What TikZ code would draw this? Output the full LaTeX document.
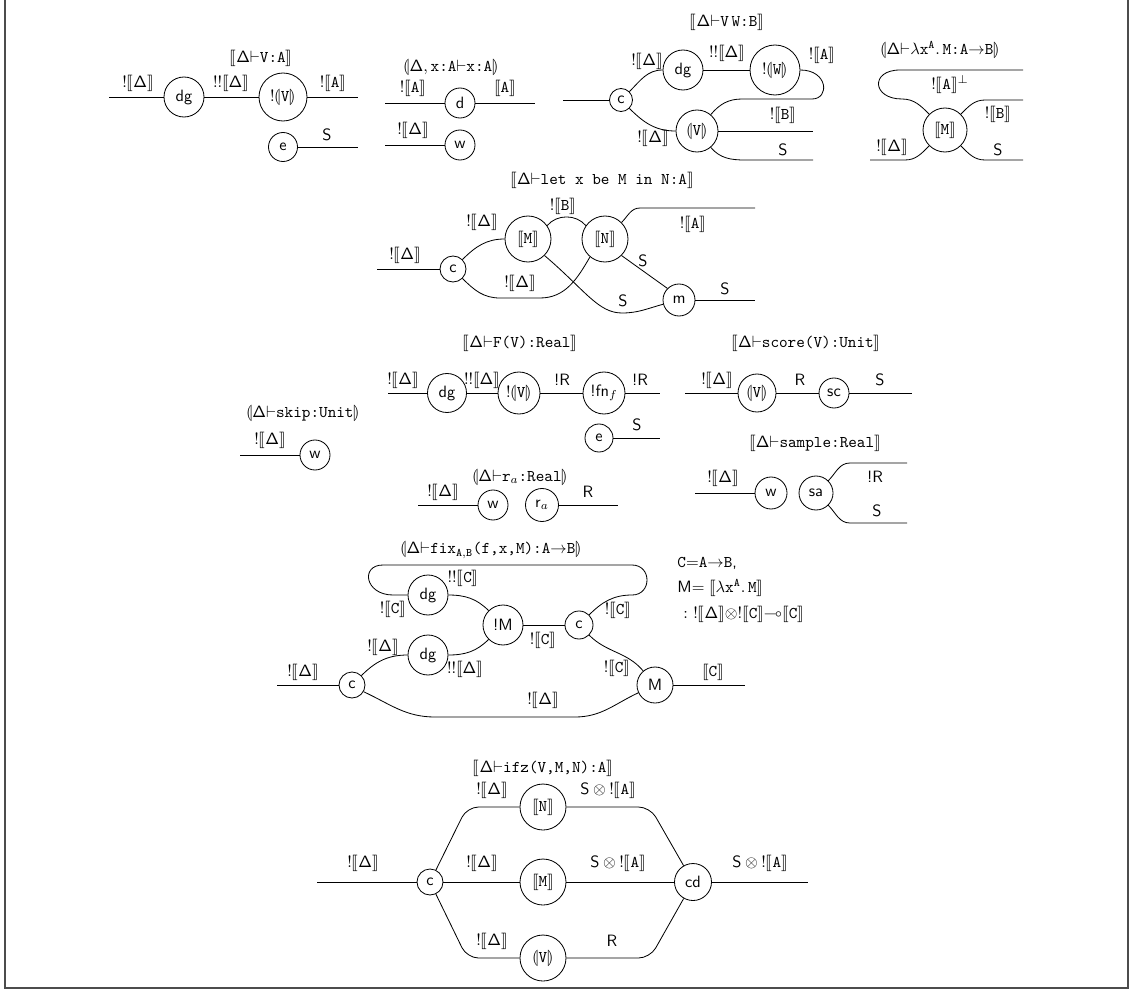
\documentclass[tikz,border=0pt]{standalone}
\usepackage{amssymb}
\usepackage{stmaryrd}
\newcommand{\sem}[1]{\llbracket #1\rrbracket}
\newcommand{\ban}[1]{\llparenthesis #1\rrparenthesis}
\newcommand{\Dlt}{\mathsf{\Delta}}
\newcommand{\tm}[1]{\mbox{\ttfamily #1}}
\newcommand{\bangD}{$!\sem{\Dlt}$}
\newcommand{\bangC}{$!\sem{\tm{C}}$}
\newcommand{\SA}{$\mathsf{S}\mathbin{\otimes}{!}\sem{\tm{A}}$}
\tikzset{
  gate/.style={draw,circle,inner sep=0pt,font=\sffamily,minimum size={#1*1.22pt}},
  lbl/.style={inner sep=0pt,font=\sffamily}
}
\begin{document}
\begin{tikzpicture}[x=0.61pt,y=-0.61pt,line width=0.5pt]
\useasboundingbox (0,0) rectangle (1131,992);
\draw[black!70,line width=1pt] (5,-20) -- (5,988) -- (1128,988) -- (1128,-20);

\node[lbl] (tV) at (261,58) {$\sem{\Dlt{\vdash}\tm{V:A}}$};
\coordinate (inV) at (109,97);
\node[gate=20] (dgV) at (184,97) {dg};
\node[gate=24] (bV) at (283,97) {$!\ban{\tm{V}}$};
\coordinate (outV) at (358,97);
\node[gate=14.5] (eV) at (283,147) {e};
\coordinate (outVs) at (358,147);
\draw (inV) -- (dgV) -- (bV) -- (outV);
\draw (eV) -- (outVs);
\node[lbl] (lV1) at (138,83) {\bangD};
\node[lbl] (lV2) at (231,83) {$!!\sem{\Dlt}$};
\node[lbl] (lV3) at (333,83) {$!\sem{\tm{A}}$};
\node[lbl] (lV4) at (327,135) {S};

\node[lbl] (tX) at (451,67) {$\ban{\Dlt,\tm{x:A}{\vdash}\tm{x:A}}$};
\coordinate (inX) at (385,103);
\node[gate=15] (dX) at (460,103) {d};
\coordinate (outX) at (535,103);
\coordinate (inXw) at (385,145);
\node[gate=15] (wX) at (460,145) {w};
\draw (inX) -- (dX) -- (outX);
\draw (inXw) -- (wX);
\node[lbl] (lX1) at (413,88) {$!\sem{\tm{A}}$};
\node[lbl] (lX2) at (505,88) {$\sem{\tm{A}}$};
\node[lbl] (lX3) at (413,130) {\bangD};

\node[lbl] (tA) at (727,22) {$\sem{\Dlt{\vdash}\tm{V}\,\tm{W:B}}$};
\coordinate (inA) at (563,100);
\node[gate=11.5] (cA) at (621,100) {c};
\node[gate=20] (dgA) at (683,70) {dg};
\node[gate=25] (bW) at (775,70) {$!\ban{\tm{W}}$};
\node[gate=21] (vA) at (697,131) {$\ban{\tm{V}}$};
\coordinate (kA1) at (812,99);
\coordinate (kA2) at (742,99);
\coordinate (oB) at (813,131);
\coordinate (sA1) at (745,160);
\coordinate (oS) at (813,160);
\draw (inA) -- (cA);
\draw (cA.45) to[out=45,in=180] (dgA.west);
\draw (cA.-45) to[out=-45,in=180] (vA.west);
\draw (dgA) -- (bW);
\draw (bW.east) .. controls (828,70) and (830,99) .. (kA1) -- (kA2) to[out=180,in=50] (vA.50);
\draw (vA.east) -- (oB);
\draw (vA.-50) to[out=-50,in=180] (sA1) -- (oS);
\node[lbl] (lA1) at (647,61) {\bangD};
\node[lbl] (lA2) at (653,138) {\bangD};
\node[lbl] (lA3) at (727,53) {$!!\sem{\Dlt}$};
\node[lbl] (lA4) at (822,55) {$!\sem{\tm{A}}$};
\node[lbl] (lA5) at (783,115) {$!\sem{\tm{B}}$};
\node[lbl] (lA6) at (783,150) {S};

\node[lbl] (tL) at (940,50) {$\ban{\Dlt{\vdash}\lambda\tm{x}^{\mathtt{A}}.\,\tm{M:A}{\to}\tm{B}}$};
\node[gate=22] (mL) at (945,130) {$\sem{\tm{M}}$};
\coordinate (aL1) at (1023,70);
\coordinate (aL2) at (900,70);
\coordinate (aL3) at (902,99);
\coordinate (bL1) at (985,100);
\coordinate (bL2) at (1023,100);
\coordinate (sL1) at (985,160);
\coordinate (sL2) at (1023,160);
\coordinate (dL1) at (870,160);
\coordinate (dL2) at (905,160);
\draw (aL1) -- (aL2) .. controls (870,70) and (872,99) .. (aL3) to[out=0,in=135] (mL.135);
\draw (mL.45) to[out=45,in=180] (bL1) -- (bL2);
\draw (mL.-45) to[out=-45,in=180] (sL1) -- (sL2);
\draw (dL1) -- (dL2) to[out=0,in=-135] (mL.-135);
\node[lbl] (lL1) at (950,85) {$!\sem{\tm{A}}^{\perp}$};
\node[lbl] (lL2) at (998,114) {$!\sem{\tm{B}}$};
\node[lbl] (lL3) at (998,150) {S};
\node[lbl] (lL4) at (892,147) {\bangD};

\node[lbl] (tLet) at (602,180) {$\sem{\Dlt{\vdash}\tm{let x be M in N:A}}$};
\coordinate (inLet) at (377,269);
\node[gate=13] (cLet) at (453,269) {c};
\node[gate=23] (mLet) at (528,239) {$\sem{\tm{M}}$};
\node[gate=23] (nLet) at (605,239) {$\sem{\tm{N}}$};
\node[gate=16] (muLet) at (679,300) {m};
\coordinate (aLet1) at (640,208);
\coordinate (aLet2) at (755,208);
\coordinate (dLet1) at (500,298);
\coordinate (dLet2) at (540,298);
\coordinate (sLet) at (622,313);
\coordinate (oLet) at (755,300);
\draw (inLet) -- (cLet);
\draw (cLet.45) to[out=45,in=180] (mLet.west);
\draw (mLet.35) to[out=50,in=130] (nLet.145);
\draw (nLet.45) to[out=45,in=180] (aLet1) -- (aLet2);
\draw (cLet.-45) to[out=-45,in=180] (dLet1) -- (dLet2) to[out=0,in=-120] (nLet.-130);
\draw (mLet.-45) .. controls (585,290) and (598,313) .. (sLet) to[out=0,in=195] (muLet.195);
\draw (nLet.-45) -- (muLet.135);
\draw (muLet) -- (oLet);
\node[lbl] (lLet1) at (405,255) {\bangD};
\node[lbl] (lLet2) at (482,222) {\bangD};
\node[lbl] (lLet3) at (563,206) {$!\sem{\tm{B}}$};
\node[lbl] (lLet4) at (693,224) {$!\sem{\tm{A}}$};
\node[lbl] (lLet5) at (520,283) {\bangD};
\node[lbl] (lLet6) at (623,301) {S};
\node[lbl] (lLet7) at (643,261) {S};
\node[lbl] (lLet8) at (725,289) {S};

\node[lbl] (tF) at (520,343) {$\sem{\Dlt{\vdash}\tm{F(V):Real}}$};
\coordinate (inF) at (388,393);
\node[gate=19.5] (dgF) at (447,393) {dg};
\node[gate=21] (bF) at (519,393) {$!\ban{\tm{V}}$};
\node[gate=21] (fnF) at (604,393) {!fn$_f$};
\coordinate (outF) at (660,393);
\node[gate=14] (eF) at (599,438) {e};
\coordinate (outFs) at (660,438);
\draw (inF) -- (dgF) -- (bF) -- (fnF) -- (outF);
\draw (eF) -- (outFs);
\node[lbl] (lF1) at (403,380) {\bangD};
\node[lbl] (lF2) at (482,380) {$!!\sem{\Dlt}$};
\node[lbl] (lF3) at (562,380) {!R};
\node[lbl] (lF4) at (640,380) {!R};
\node[lbl] (lF5) at (637,425) {S};

\node[lbl] (tSk) at (303,413) {$\ban{\Dlt{\vdash}\tm{skip:Unit}}$};
\coordinate (inSk) at (240,455);
\node[gate=15] (wSk) at (315,455) {w};
\draw (inSk) -- (wSk);
\node[lbl] (lSk) at (270,440) {\bangD};

\node[lbl] (tR) at (520,477) {$\ban{\Dlt{\vdash}\tm{r}_a\tm{:Real}}$};
\coordinate (inR) at (418,505);
\node[gate=15] (wR) at (493,505) {w};
\node[gate=16.5] (rR) at (542,505) {r$_a$};
\coordinate (outR) at (618,505);
\draw (inR) -- (wR);
\draw (rR) -- (outR);
\node[lbl] (lR1) at (443,492) {\bangD};
\node[lbl] (lR2) at (588,492) {R};

\node[lbl] (tSc) at (806,343) {$\sem{\Dlt{\vdash}\tm{score(V):Unit}}$};
\coordinate (inSc) at (685,393);
\node[gate=19] (vSc) at (757,393) {$\ban{\tm{V}}$};
\node[gate=15] (sc) at (834,393) {sc};
\coordinate (outSc) at (912,393);
\draw (inSc) -- (vSc) -- (sc) -- (outSc);
\node[lbl] (lSc1) at (717,380) {\bangD};
\node[lbl] (lSc2) at (800,380) {R};
\node[lbl] (lSc3) at (880,380) {S};

\node[lbl] (tSa) at (815,443) {$\sem{\Dlt{\vdash}\tm{sample:Real}}$};
\coordinate (inSa) at (695,493);
\node[gate=16] (wSa) at (771,493) {w};
\node[gate=17] (sa) at (816,493) {sa};
\coordinate (uSa1) at (850,463);
\coordinate (uSa2) at (907,463);
\coordinate (dSa1) at (850,523);
\coordinate (dSa2) at (907,523);
\draw (inSa) -- (wSa);
\draw (sa.45) to[out=45,in=180] (uSa1) -- (uSa2);
\draw (sa.-45) to[out=-45,in=180] (dSa1) -- (dSa2);
\node[lbl] (lSa1) at (723,478) {\bangD};
\node[lbl] (lSa2) at (875,477) {!R};
\node[lbl] (lSa3) at (877,511) {S};

\node[lbl] (tFix) at (491,550) {$\ban{\Dlt{\vdash}\tm{fix}_{\mathtt{A,B}}\tm{(f,x,M):A}{\to}\tm{B}}$};
\coordinate (inFix) at (277,685);
\node[gate=13] (c1Fix) at (352,685) {c};
\node[gate=20] (dg1Fix) at (428,595) {dg};
\node[gate=20] (dg2Fix) at (428,655) {dg};
\node[gate=20] (bmFix) at (503,625) {!M};
\node[gate=14] (c2Fix) at (579,625) {c};
\node[gate=18] (mFix) at (655,685) {M};
\coordinate (outFix) at (745,685);
\coordinate (lpA) at (632,595);
\coordinate (lpB) at (632,565);
\coordinate (lpC) at (383,565);
\coordinate (lpD) at (393,595);
\coordinate (btA) at (435,717);
\coordinate (btB) at (575,717);
\draw (inFix) -- (c1Fix);
\draw (c1Fix.45) to[out=45,in=180] (dg2Fix.west);
\draw (c1Fix.-30) to[out=-25,in=180] (btA) -- (btB) to[out=0,in=-155] (mFix.-155);
\draw (dg2Fix.east) to[out=0,in=-135] (bmFix.-135);
\draw (dg1Fix.east) to[out=0,in=135] (bmFix.135);
\draw (bmFix) -- (c2Fix);
\draw (c2Fix.-45) to[out=-45,in=130] (mFix.130);
\draw (c2Fix.45) to[out=45,in=180] (lpA) .. controls (652,595) and (652,565) .. (lpB) -- (lpC) .. controls (360,565) and (365,595) .. (lpD) -- (dg1Fix.west);
\draw (mFix) -- (outFix);
\node[lbl] (lFix1) at (393,609) {\bangC};
\node[lbl] (lFix2) at (463,578) {$!!\sem{\tm{C}}$};
\node[lbl] (lFix3) at (383,647) {\bangD};
\node[lbl] (lFix4) at (465,669) {$!!\sem{\Dlt}$};
\node[lbl] (lFix5) at (543,640) {\bangC};
\node[lbl] (lFix6) at (618,610) {\bangC};
\node[lbl] (lFix7) at (617,668) {\bangC};
\node[lbl] (lFix8) at (303,672) {\bangD};
\node[lbl] (lFix9) at (543,700) {\bangD};
\node[lbl] (lFix10) at (713,672) {$\sem{\tm{C}}$};
\node[lbl,anchor=west] (eqC) at (677,563) {$\tm{C}{=}\tm{A}{\to}\tm{B}$,};
\node[lbl,anchor=west] (eqM) at (677,588) {M$=\sem{\lambda\tm{x}^{\mathtt{A}}.\,\tm{M}}$};
\node[lbl,anchor=west] (eqT) at (683,614) {$:\ !\sem{\Dlt}{\otimes}!\sem{\tm{C}}{\multimap}\sem{\tm{C}}$};

\node[lbl] (tIf) at (543,768) {$\sem{\Dlt{\vdash}\tm{ifz(V,M,N):A}}$};
\coordinate (inIf) at (317,882);
\node[gate=13] (cIf) at (430,882) {c};
\node[gate=23] (nIf) at (543,807) {$\sem{\tm{N}}$};
\node[gate=23] (mIf) at (543,882) {$\sem{\tm{M}}$};
\node[gate=23] (vIf) at (543,958) {$\ban{\tm{V}}$};
\node[gate=18.5] (cdIf) at (693,882) {cd};
\coordinate (outIf) at (808,882);
\coordinate (kIf1) at (467,807);
\coordinate (kIf2) at (650,807);
\coordinate (kIf3) at (467,958);
\coordinate (kIf4) at (650,958);
\draw (inIf) -- (cIf) -- (mIf) -- (cdIf) -- (outIf);
\draw[rounded corners=7pt] (cIf) -- (kIf1) -- (nIf) -- (kIf2) -- (cdIf);
\draw[rounded corners=7pt] (cIf) -- (kIf3) -- (vIf) -- (kIf4) -- (cdIf);
\node[lbl] (lIf1) at (363,863) {\bangD};
\node[lbl] (lIf2) at (492,790) {\bangD};
\node[lbl] (lIf3) at (608,790) {\SA};
\node[lbl] (lIf4) at (482,863) {\bangD};
\node[lbl] (lIf5) at (618,863) {\SA};
\node[lbl] (lIf6) at (492,941) {\bangD};
\node[lbl] (lIf7) at (612,941) {R};
\node[lbl] (lIf8) at (760,863) {\SA};
\end{tikzpicture}
\end{document}
